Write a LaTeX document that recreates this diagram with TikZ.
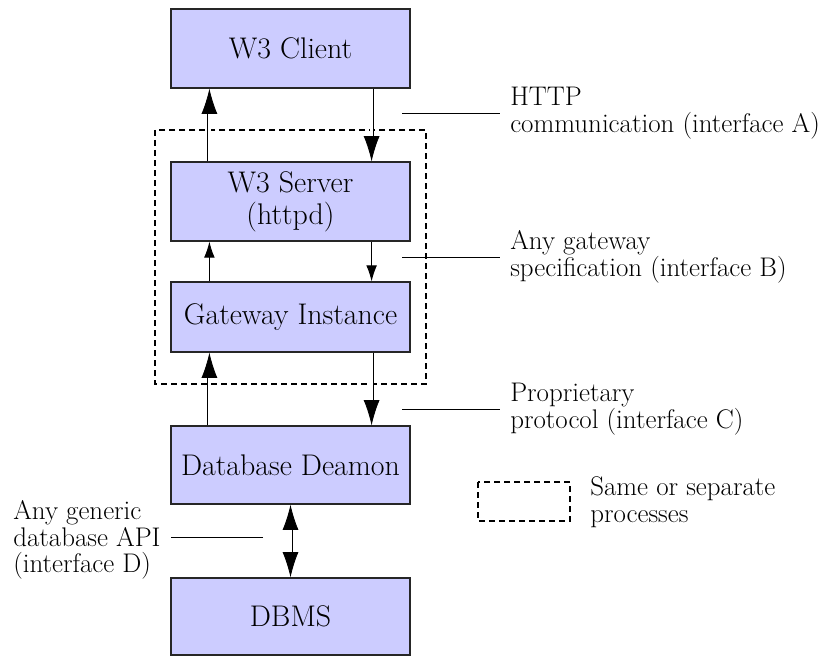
\documentclass[tikz,border=0pt]{standalone}
\usetikzlibrary{arrows.meta,positioning}
\definecolor{boxblue}{HTML}{CCCCFF}

\begin{document}
\begin{tikzpicture}[x=0.75pt, y=-0.75pt,
  box/.style = {draw=black!85, fill=boxblue, line width=0.9pt, minimum width=179.25pt,
                inner sep=0pt, align=center, font=\fontsize{22.4}{24}\selectfont},
  note/.style = {anchor=west, inner xsep=7.5pt, inner ysep=0pt, align=left,
                 font=\fontsize{20.2}{20}\selectfont},
  dbl/.style = {double, double distance=1.8pt, line width=0.6pt,
                -{Latex[length=19pt, width=12pt]}},
  sgl/.style = {line width=0.7pt, -{Latex[length=12pt, width=8pt]}},
  grp/.style = {draw, line width=0.9pt, dash pattern=on 4.5pt off 3pt},
  tick/.style = {line width=0.7pt}]
\useasboundingbox (0,0) rectangle (820,656);

% boxes
\node[box, minimum height=59.25pt] (client) at (290.5,48.5) {W3 Client};
\node[box, minimum height=59.25pt] (server) at (290.5,201.5) {W3 Server\\(httpd)};
\node[box, minimum height=52.5pt] (gateway) at (290.5,317) {Gateway Instance};
\node[box, minimum height=58.5pt] (daemon) at (290.5,465) {Database Deamon};
\node[box, minimum height=57.75pt] (dbms) at (290.5,616.5) {DBMS};

% same or separate processes
\draw[grp] (155,130) rectangle (426,384);
\draw[grp] (478,482) rectangle (570,521);
\node[note] (legend) at (580,502) {Same or separate\\processes};

% arrows
\draw[dbl] ([xshift=29.25pt]server.north west) -- ([xshift=29.25pt]client.south west);
\draw[dbl] ([xshift=-29.25pt]client.south east) -- ([xshift=-29.25pt]server.north east);
\draw[sgl] ([xshift=29.25pt]gateway.north west) -- ([xshift=29.25pt]server.south west);
\draw[sgl] ([xshift=-29.25pt]server.south east) -- ([xshift=-29.25pt]gateway.north east);
\draw[dbl] ([xshift=29.25pt]daemon.north west) -- ([xshift=29.25pt]gateway.south west);
\draw[dbl] ([xshift=-29.25pt]gateway.south east) -- ([xshift=-29.25pt]daemon.north east);
\draw[dbl, {Latex[length=19pt, width=12pt]}-{Latex[length=19pt, width=12pt]}] (daemon) -- (dbms);

% interface labels
\coordinate (tA) at (402,113);
\coordinate (tB) at (402,257);
\coordinate (tC) at (402,409);
\coordinate (tD) at (263,537);
\node[note] (lblA) at (500,113) {HTTP\\communication (interface A)};
\node[note] (lblB) at (500,257) {Any gateway\\specification (interface B)};
\node[note] (lblC) at (500,409) {Proprietary\\protocol (interface C)};
\node[note] (lblD) at (3,540) {Any generic\\database API\\(interface D)};
\draw[tick] (tA) -- (lblA.west);
\draw[tick] (tB) -- (lblB.west);
\draw[tick] (tC) -- (lblC.west);
\draw[tick] (tD) -- (lblD.east |- tD);
\end{tikzpicture}
\end{document}
